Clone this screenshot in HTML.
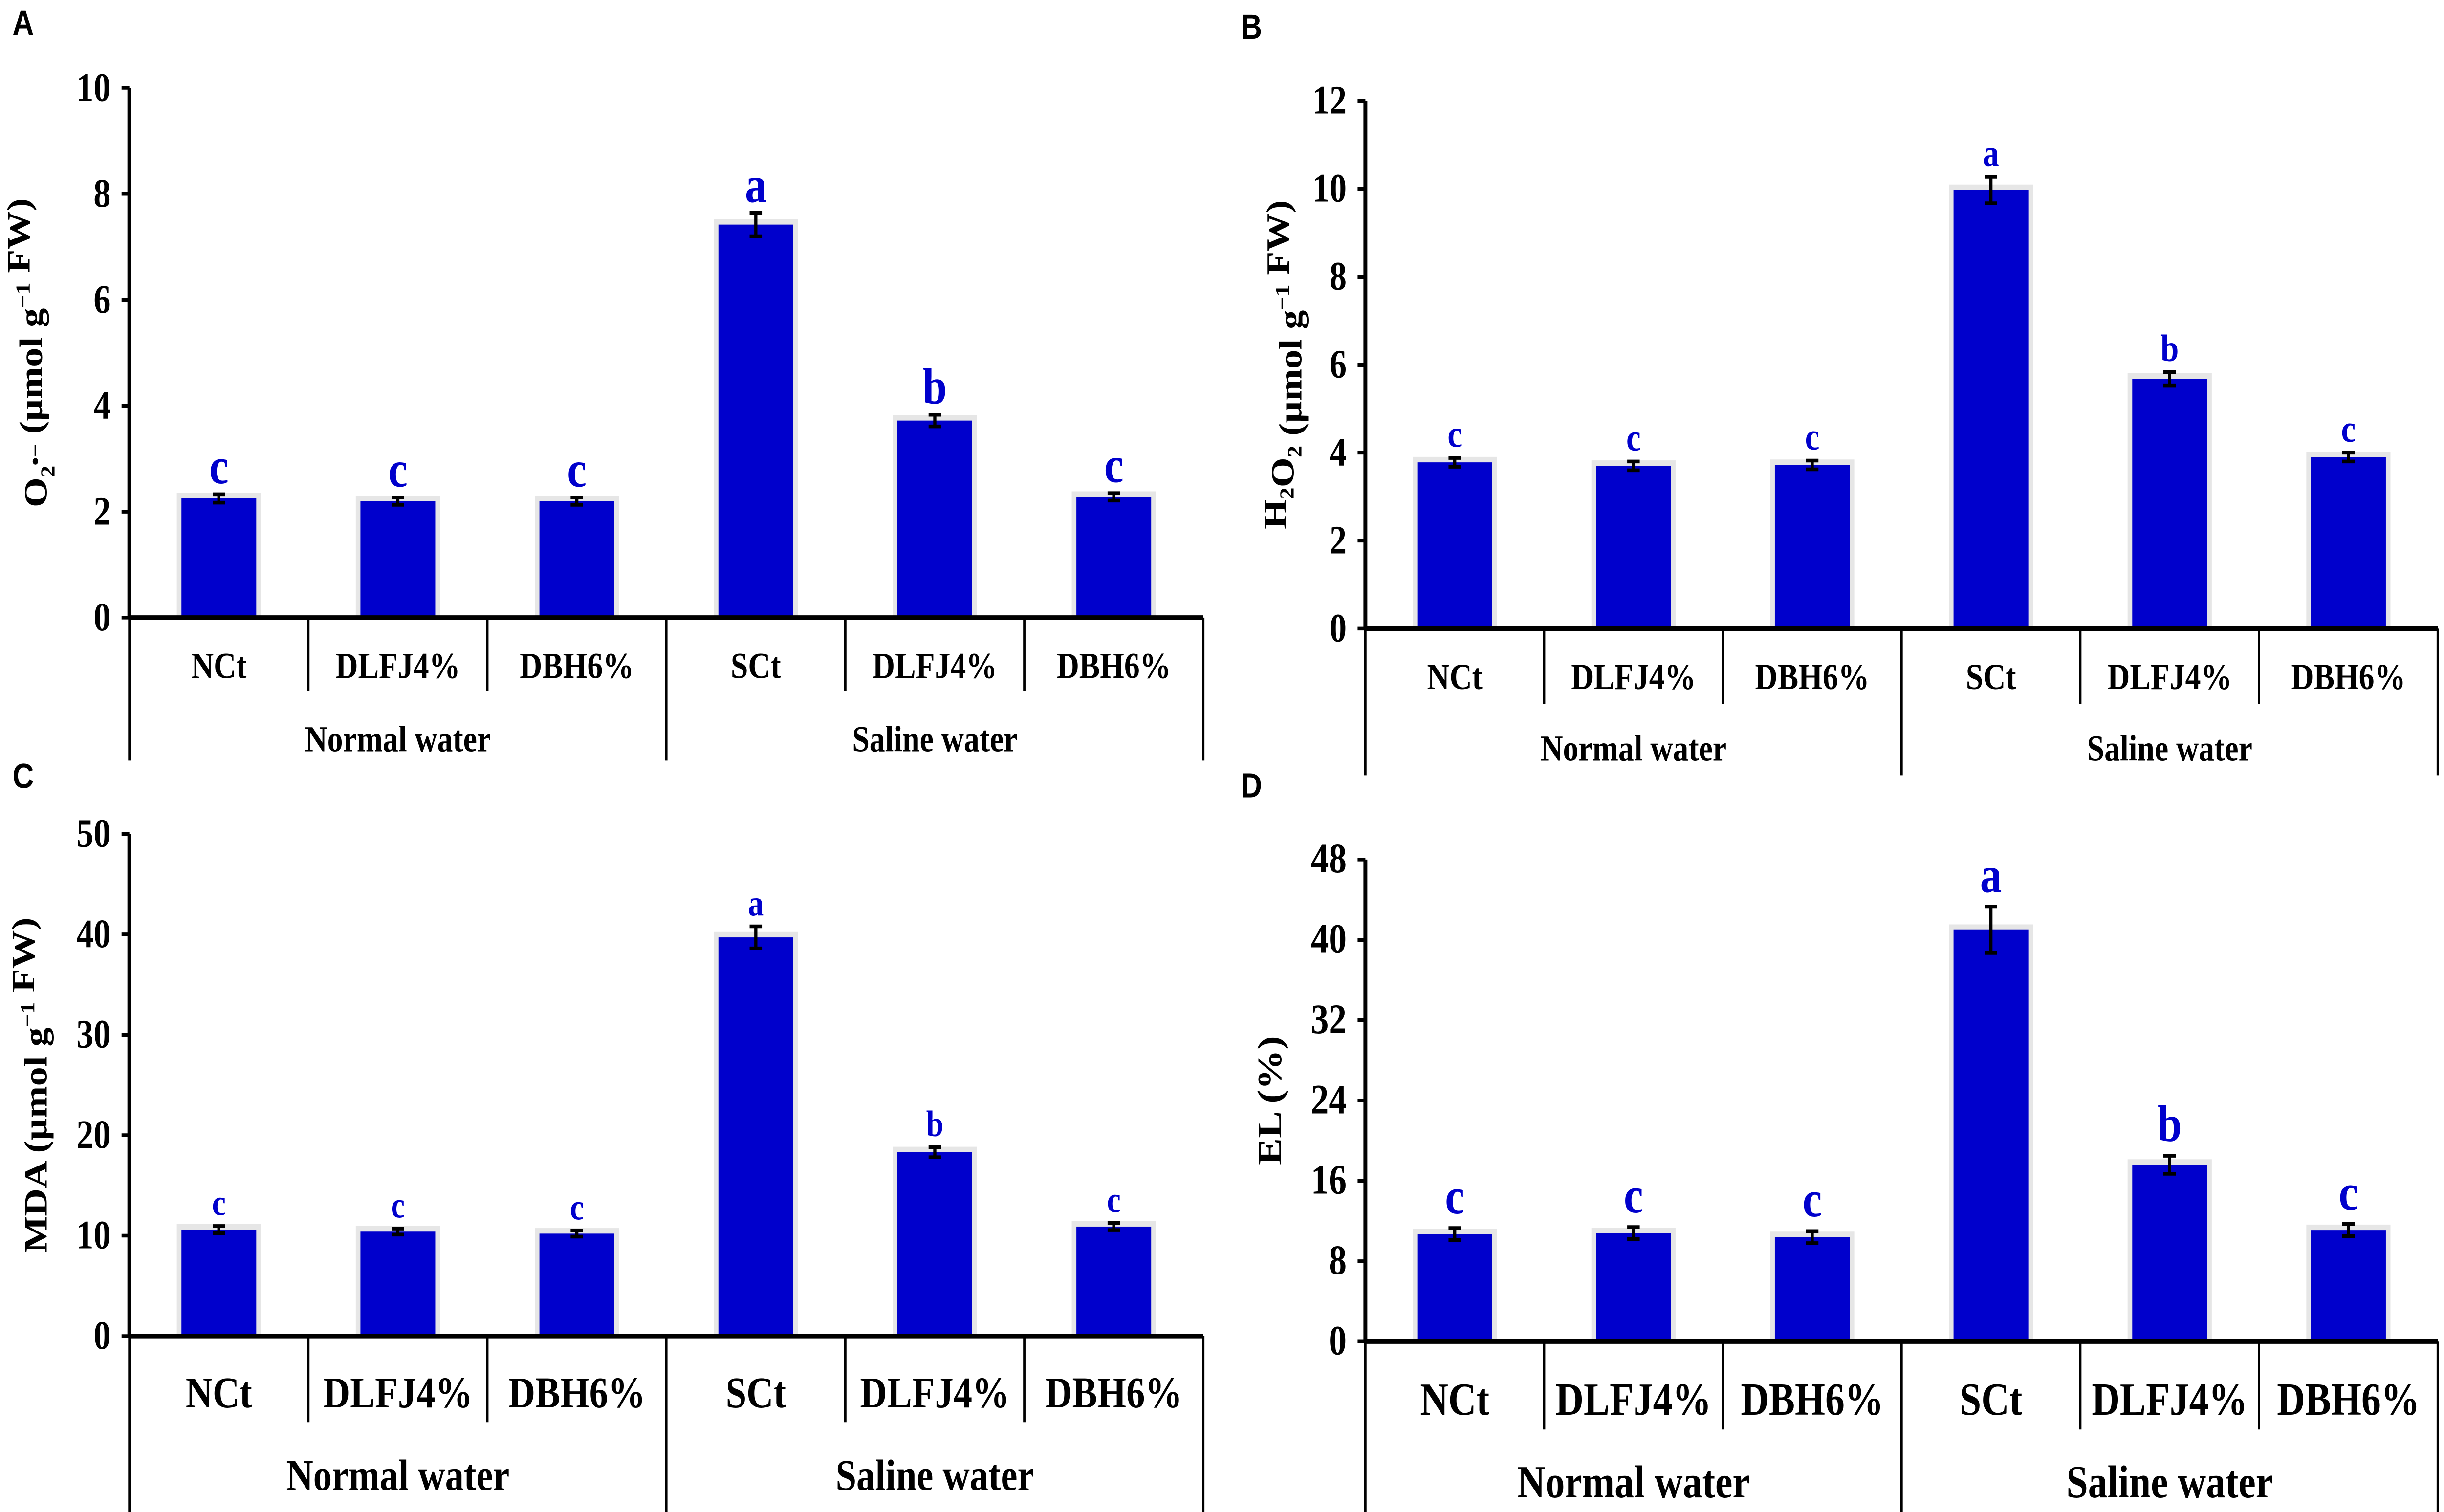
<!DOCTYPE html>
<html><head><meta charset="utf-8"><style>
html,body{margin:0;padding:0;background:#fff;width:100%;height:100%;overflow:hidden;}
svg{display:block;position:absolute;left:0;top:0;width:100vw;height:100vh;}
text{font-family:"Liberation Serif",serif;font-weight:bold;}
.pl{font-family:"Liberation Sans",sans-serif;font-weight:bold;}
</style></head><body>
<svg id="fig" viewBox="0 0 1568 825" preserveAspectRatio="none" xmlns="http://www.w3.org/2000/svg"></svg>
<script>
const categories = ["NCt","DLFJ4%","DBH6%","SCt","DLFJ4%","DBH6%"];
const groups = ["Normal water","Saline water"];
const valuesA = [2.25,2.2,2.2,7.42,3.72,2.28];
const errorsA = [0.08,0.07,0.07,0.22,0.11,0.07];
const lettersA = ["c","c","c","a","b","c"];
const ticksA = [0,2,4,6,8,10];
const valuesB = [3.78,3.7,3.72,9.97,5.68,3.9];
const errorsB = [0.1,0.1,0.1,0.3,0.15,0.1];
const lettersB = ["c","c","c","a","b","c"];
const ticksB = [0,2,4,6,8,10,12];
const valuesC = [10.6,10.4,10.2,39.7,18.3,10.9];
const errorsC = [0.35,0.3,0.3,1.1,0.5,0.35];
const lettersC = ["c","c","c","a","b","c"];
const ticksC = [0,10,20,30,40,50];
const valuesD = [10.7,10.8,10.4,41.0,17.6,11.1];
const errorsD = [0.6,0.6,0.6,2.3,0.9,0.6];
const lettersD = ["c","c","c","a","b","c"];
const ticksD = [0,8,16,24,32,40,48];

const NS="http://www.w3.org/2000/svg";
const svg=document.getElementById('fig');
function mk(tag,attrs,parent,txt){const e=document.createElementNS(NS,tag);for(const k in attrs)e.setAttribute(k,attrs[k]);if(txt!==undefined)e.textContent=txt;(parent||svg).appendChild(e);return e;}

function panel(p){
  const g=mk('g',{});
  
  
  const ymax=p.ticks[p.ticks.length-1];
  const y=v=>p.y0-(v/ymax)*(p.y0-p.y1);
  const n=categories.length, step=(p.x1-p.x0)/n;
  const xc=i=>p.x0+step*(i+0.5);
  const pl=mk('text',{x:p.lx,y:p.ly,'font-size':19,class:'pl'},g,p.id);
  
  
  categories.forEach((c,i)=>{
    const v=p.values[i], e=p.errors[i], bw=48;
    const sh=mk('rect',{x:xc(i)-bw/2-3,y:y(v)-3,width:bw+6,height:p.y0-y(v)+3,fill:'#e6e6e6'},g);
    
    
    const r=mk('rect',{x:xc(i)-bw/2,y:y(v),width:bw,height:p.y0-y(v),fill:'#0000cc'},g);
    
    
    const eb=mk('path',{d:`M${xc(i)} ${y(v+e)}V${y(v-e)}M${xc(i)-4} ${y(v+e)}H${xc(i)+4}M${xc(i)-4} ${y(v-e)}H${xc(i)+4}`,stroke:'#000','stroke-width':2,fill:'none'},g);
    
    
    const lt=mk('text',{x:xc(i),y:y(v+e)-p.lgap,'text-anchor':'middle','font-size':p.lfs,fill:'#0000cc'},g,p.letters[i]);
    
    
    const cl=mk('text',{x:xc(i),y:p.cy,'text-anchor':'middle','font-size':p.cfs},g,c);
    
    
  });
  const ax=mk('path',{d:`M${p.x0} ${y(ymax)}V${p.y0}M${p.x0} ${p.y0}H${p.x1}`,stroke:'#000','stroke-width':2.5,fill:'none'},g);
  
  
  p.ticks.forEach(t=>{
    const tk=mk('line',{x1:p.x0-5,x2:p.x0,y1:y(t),y2:y(t),stroke:'#000','stroke-width':2},g);
    
    
    const tl=mk('text',{x:p.x0-12,y:y(t)+7,'text-anchor':'end','font-size':p.tfs},g,t);
    
    
  });
  for(let i=0;i<=n;i++){
    const long=(i%3===0);
    const dv=mk('line',{x1:p.x0+step*i,x2:p.x0+step*i,y1:p.y0,y2:long?p.longEnd:p.shortEnd,stroke:'#000','stroke-width':1.5},g);
    
    
  }
  groups.forEach((gn,j)=>{
    const gl=mk('text',{x:p.x0+step*(3*j+1.5),y:p.gy,'text-anchor':'middle','font-size':p.cfs},g,gn);
    
    
  });
  const yt=mk('text',{transform:`translate(${p.tx},${(y(ymax)+p.y0)/2}) rotate(-90)`,'text-anchor':'middle','font-size':p.yfs},g);
  
  
  yt.innerHTML=p.title;
}
const sup=(s)=>`<tspan dy="-8" font-size="13">${s}</tspan><tspan dy="8"></tspan>`;
const sub=(s)=>`<tspan dy="5" font-size="13">${s}</tspan><tspan dy="-5"></tspan>`;
panel({id:'A',lx:8,ly:19,x0:83,x1:772,y0:337,y1:48,values:valuesA,errors:errorsA,letters:lettersA,ticks:ticksA,
  cy:370,gy:410,shortEnd:377,longEnd:415,tfs:22,cfs:20,lfs:28,lgap:6,yfs:21,tx:30,
  title:'O'+sub('2')+sup('•−')+' (µmol g'+sup('−1')+' FW)'});
panel({id:'B',lx:796,ly:21,x0:876,x1:1564,y0:343,y1:55,values:valuesB,errors:errorsB,letters:lettersB,ticks:ticksB,
  cy:376,gy:415,shortEnd:384,longEnd:423,tfs:22,cfs:20,lfs:21,lgap:6,yfs:21,tx:825,
  title:'H'+sub('2')+'O'+sub('2')+' (µmol g'+sup('−1')+' FW)'});
panel({id:'C',lx:8,ly:430,x0:83,x1:772,y0:729,y1:455,values:valuesC,errors:errorsC,letters:lettersC,ticks:ticksC,
  cy:768,gy:813,shortEnd:776,longEnd:825,tfs:22,cfs:24,lfs:20,lgap:6,yfs:21,tx:30,
  title:'MDA (µmol g'+sup('−1')+' FW)'});
panel({id:'D',lx:796,ly:435,x0:876,x1:1564,y0:732,y1:469,values:valuesD,errors:errorsD,letters:lettersD,ticks:ticksD,
  cy:772,gy:817,shortEnd:780,longEnd:825,tfs:23,cfs:25,lfs:28,lgap:8,yfs:22,tx:822,
  title:'EL (%)'});
</script>
</body></html>
